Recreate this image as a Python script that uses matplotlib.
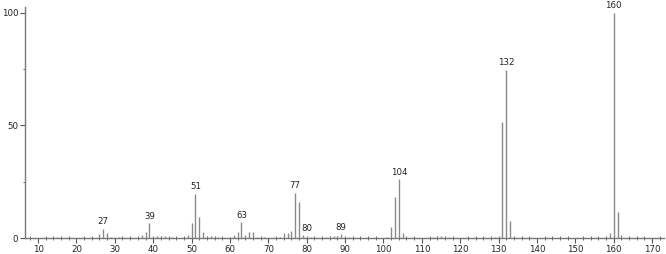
import matplotlib
matplotlib.use("Agg")
import matplotlib.pyplot as plt
from matplotlib.ticker import MultipleLocator

mz = [15, 18, 26, 27, 28, 29, 31, 37, 38, 39, 40, 41, 42, 43, 44, 45,
      49, 50, 51, 52, 53, 54, 55, 56, 57, 60, 61, 62, 63, 64, 65, 66, 67, 69,
      73, 74, 75, 76, 77, 78, 79, 80, 81, 85, 86, 87, 88, 89, 90, 91, 92,
      101, 102, 103, 104, 105, 106, 113, 114, 115, 116, 117, 118,
      129, 130, 131, 132, 133, 134, 158, 159, 160, 161, 162]
intensity = [0.4, 0.4, 1.8, 4.0, 2.0, 0.6, 0.4, 1.2, 2.8, 6.5, 0.8, 1.0, 0.7, 0.8, 0.6, 0.3,
             1.2, 6.5, 19.7, 9.3, 2.8, 1.0, 1.0, 0.6, 0.4, 0.6, 1.2, 2.5, 7.0, 1.5, 2.5, 2.5, 0.5, 0.4,
             0.5, 2.0, 2.2, 3.0, 20.0, 16.0, 1.2, 1.0, 0.4, 0.6, 0.8, 0.7, 0.9, 1.6, 0.8, 0.6, 0.3,
             0.6, 5.0, 18.0, 26.0, 2.2, 0.6, 0.4, 0.8, 0.9, 0.6, 0.4, 0.3,
             0.4, 0.8, 51.5, 74.6, 7.5, 0.5, 0.6, 2.0, 100.0, 11.5, 1.3]
labelled = [27, 39, 51, 63, 77, 80, 89, 104, 132, 160]

x_ticks = list(range(10, 171, 10))
y_ticks = [0, 50, 100]

fig = plt.figure(figsize=(6.66, 2.54), dpi=100)
ax = fig.add_axes([25/666, 16/254, 639/666, 231/254])

ax.vlines(mz, 0, intensity, colors="#8a8a8a", linewidth=1.0)
for m, v in zip(mz, intensity):
    if m in labelled:
        ax.text(m, v + 1.2, str(m), ha="center", va="bottom", fontsize=6.2,
                color="#222222", family="DejaVu Sans")

ax.set_xlim(6.6, 173.1)
ax.set_ylim(0, 102.5)
ax.set_xticks(x_ticks)
ax.set_yticks(y_ticks)
ax.xaxis.set_minor_locator(MultipleLocator(2))
ax.yaxis.set_minor_locator(MultipleLocator(25))
for s in ["top", "right"]:
    ax.spines[s].set_visible(False)
for s in ["left", "bottom"]:
    ax.spines[s].set_color("#777777")
    ax.spines[s].set_linewidth(1.0)
ax.tick_params(axis="both", which="major", direction="out", length=3.5, width=0.8,
               colors="#555555", labelsize=6.2, labelcolor="#222222", pad=1.5)
ax.tick_params(axis="x", which="minor", direction="inout", length=3, width=0.7, colors="#666666")
ax.tick_params(axis="y", which="minor", direction="out", length=1.5, width=0.7, colors="#666666")

fig.savefig("out.png", dpi=100)
